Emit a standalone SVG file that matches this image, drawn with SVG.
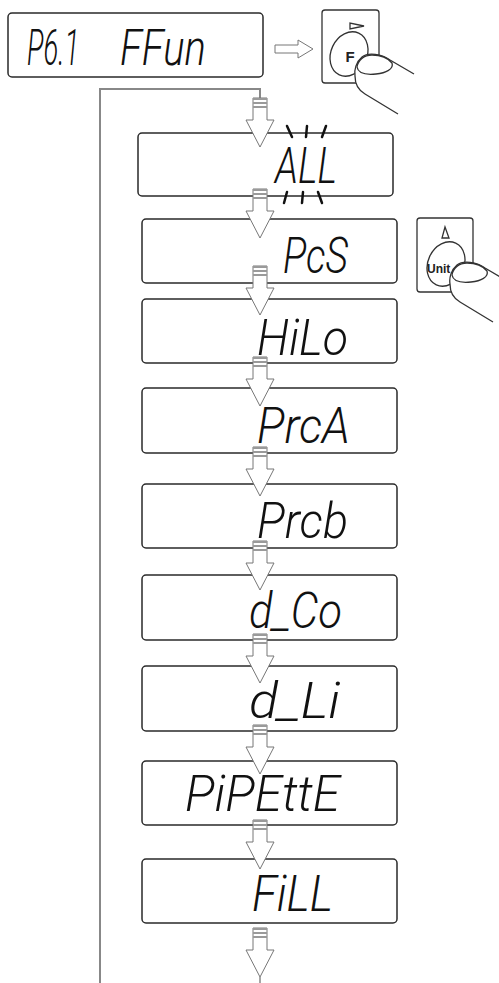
<svg xmlns="http://www.w3.org/2000/svg" xmlns:xlink="http://www.w3.org/1999/xlink" width="499" height="983" viewBox="0 0 499 983">
<style>
.box{fill:#fff;stroke:#2a2a2a;stroke-width:1.5}
.lcd{font-family:Roboto,"Liberation Sans",Arial,sans-serif;font-weight:300;font-style:italic;font-size:50px;fill:#111}
.blink{stroke:#111;stroke-width:2.5;stroke-linecap:round}
.arrow{fill:#fff;stroke:#777;stroke-width:1}
.bar{fill:#9a9a9a}
.loop{fill:none;stroke:#888;stroke-width:2}
.btn{fill:#fff;stroke:#333;stroke-width:1.3}
.key{font-family:"Liberation Sans",Arial,sans-serif;font-weight:bold;fill:#222}
</style>
<defs>
<g id="arr">
<polygon class="arrow" points="-7,0 7,0 7,22 14,22 0,49 -14,22 -7,22"/>
<rect class="bar" x="-7" y="0" width="14" height="2"/>
<rect class="bar" x="-7" y="4" width="14" height="2"/>
<rect class="bar" x="-7" y="8" width="14" height="2"/>
</g>
<g id="finger">
<path class="btn" d="M 92,64 L 68,50 C 60,44 46,42 40,47 C 34,52 32,60 33,66 C 33,74 36,80 43,84 L 76,104"/>
<path class="btn" d="M 35,57 C 36,50 42,45 50,45 C 58,45 66,48 70,53 C 72,59 64,63 54,64 C 44,65 36,63 35,57 Z"/>
</g>
</defs>
<rect width="499" height="983" fill="#fff"/>

<g id="connectors">
<path class="loop" d="M 260,98 V 89 H 100 V 983"/>
<line x1="260" y1="977" x2="260" y2="983" stroke="#888" stroke-width="1.5"/>
<polygon class="arrow" stroke="#888" points="275,45 298,45 298,40 313,49 298,58 298,53 275,53"/>
</g>

<g id="node-p61">
<rect class="box" x="8" y="13" width="255" height="64" rx="4"/>
<text class="lcd" transform="matrix(0.55,0,0,1,27,65)">P6.1</text>
<text class="lcd" transform="matrix(0.8,0,0,1,120,65)">FFun</text>
</g>

<g id="key-f">
<rect class="btn" x="322" y="10" width="57" height="73" rx="3"/>
<polygon class="btn" points="350,23 350,29 364,26"/>
<ellipse class="btn" cx="349" cy="54" rx="18" ry="23" transform="rotate(25 349 54)"/>
<text class="key" x="350" y="62" font-size="15" text-anchor="middle">F</text>
<use xlink:href="#finger" href="#finger" transform="translate(322,10)"/>
</g>

<g id="node-all">
<rect class="box" x="138" y="133" width="255" height="63" rx="4"/>
<text class="lcd" x="275" y="183" textLength="62" lengthAdjust="spacingAndGlyphs">ALL</text>
<line class="blink" x1="287" y1="126" x2="292" y2="137"/>
<line class="blink" x1="307" y1="126" x2="306" y2="137"/>
<line class="blink" x1="326" y1="126" x2="322" y2="137"/>
<line class="blink" x1="287" y1="192" x2="284" y2="203"/>
<line class="blink" x1="303" y1="192" x2="302" y2="203"/>
<line class="blink" x1="318" y1="192" x2="322" y2="203"/>
</g>

<g id="node-pcs">
<rect class="box" x="142" y="219" width="255" height="64" rx="4"/>
<text class="lcd" x="283" y="273" textLength="65" lengthAdjust="spacingAndGlyphs">PcS</text>
</g>

<g id="key-units">
<rect class="btn" x="417" y="218" width="56" height="74" rx="3"/>
<polygon class="btn" points="442,238 449,238 445,227"/>
<ellipse class="btn" cx="446" cy="264" rx="18" ry="23" transform="rotate(25 446 264)"/>
<text class="key" x="427" y="273" font-size="12">Unit</text>
<use xlink:href="#finger" href="#finger" transform="translate(417,218)"/>
</g>

<g id="node-hilo">
<rect class="box" x="142" y="299" width="255" height="64" rx="4"/>
<text class="lcd" x="257" y="355" textLength="91" lengthAdjust="spacingAndGlyphs">HiLo</text>
</g>

<g id="node-prca">
<rect class="box" x="142" y="388" width="255" height="65" rx="4"/>
<text class="lcd" x="257" y="443" textLength="93" lengthAdjust="spacingAndGlyphs">PrcA</text>
</g>

<g id="node-prcb">
<rect class="box" x="142" y="484" width="255" height="64" rx="4"/>
<text class="lcd" x="257" y="538" textLength="91" lengthAdjust="spacingAndGlyphs">Prcb</text>
</g>

<g id="node-dco">
<rect class="box" x="142" y="575" width="255" height="65" rx="4"/>
<text class="lcd" x="249" y="628" textLength="93" lengthAdjust="spacingAndGlyphs">d_Co</text>
</g>

<g id="node-dli">
<rect class="box" x="142" y="666" width="255" height="65" rx="4"/>
<text class="lcd" x="249" y="718" textLength="91" lengthAdjust="spacingAndGlyphs">d_Li</text>
</g>

<g id="node-pipette">
<rect class="box" x="142" y="761" width="255" height="64" rx="4"/>
<text class="lcd" x="185" y="811" textLength="155" lengthAdjust="spacingAndGlyphs">PiPEttE</text>
</g>

<g id="node-fill">
<rect class="box" x="142" y="859" width="255" height="64" rx="4"/>
<text class="lcd" x="252" y="911" textLength="81" lengthAdjust="spacingAndGlyphs">FiLL</text>
</g>

<g id="flow-arrows">
<use xlink:href="#arr" href="#arr" x="260" y="98"/>
<use xlink:href="#arr" href="#arr" x="260" y="189"/>
<use xlink:href="#arr" href="#arr" x="260" y="266"/>
<use xlink:href="#arr" href="#arr" x="260" y="357"/>
<use xlink:href="#arr" href="#arr" x="260" y="447"/>
<use xlink:href="#arr" href="#arr" x="260" y="541"/>
<use xlink:href="#arr" href="#arr" x="260" y="634"/>
<use xlink:href="#arr" href="#arr" x="260" y="725"/>
<use xlink:href="#arr" href="#arr" x="260" y="820"/>
<use xlink:href="#arr" href="#arr" x="260" y="928"/>
</g>
</svg>
